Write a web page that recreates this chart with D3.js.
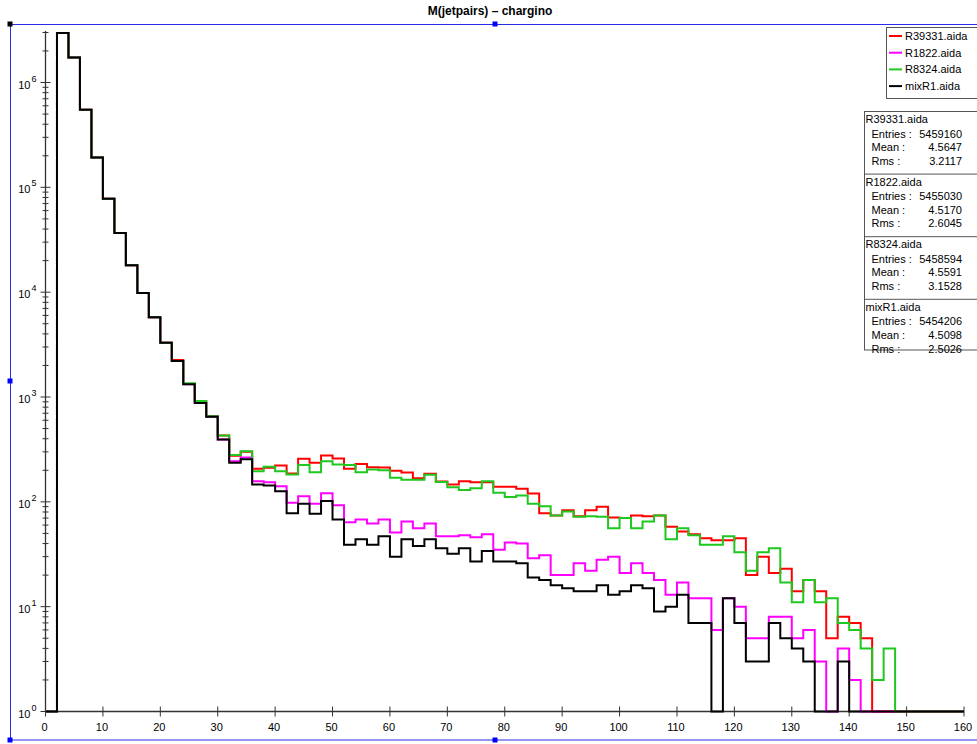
<!DOCTYPE html>
<html>
<head>
<meta charset="utf-8">
<script src="https://cdn.jsdelivr.net/npm/d3@7"></script>
<style>
  html, body { margin: 0; padding: 0; background: #fff; }
  svg { display: block; }
  text { font-family: "Liberation Sans", Arial, sans-serif; }
</style>
</head>
<body>
<svg id="chart" width="977" height="744"></svg>
<script>
// ---------------- DATA ----------------
const title = "M(jetpairs) \u2013 chargino";
const binWidth = 2;
const xMin = 0, xMax = 160;
const xTicks = [0, 10, 20, 30, 40, 50, 60, 70, 80, 90, 100, 110, 120, 130, 140, 150, 160];
const yDecades = [0, 1, 2, 3, 4, 5, 6];

const seriesNames = ["R39331.aida", "R1822.aida", "R8324.aida", "mixR1.aida"];
const seriesColors = ["#ff0000", "#ff00ff", "#1ec81e", "#000000"];

const r39331 = [0, 2970000, 1730000, 550000, 193000, 78000, 36700, 18100, 9800, 5750,
  3300, 2250, 1330, 914, 657, 430, 275, 300, 207, 211,
  222, 186, 257, 236, 277, 259, 207, 229, 214, 213,
  198, 190, 168, 185, 156, 146, 157, 154, 154, 139,
  139, 133, 120, 78, 74, 83, 73, 83, 90, 71,
  70, 74, 73, 74, 58, 52, 49, 45, 43, 43,
  45, 20, 30, 21, 23, 14, 18, 14, 5, 8,
  7, 5, 0, 0, 0, 0, 0, 0, 0, 0];

const r1822 = [0, 2970000, 1730000, 550000, 193000, 78000, 36700, 18100, 9800, 5750,
  3300, 2200, 1320, 878, 650, 393, 244, 265, 157, 154,
  141, 98, 113, 96, 121, 93, 64, 68, 62, 68,
  51, 65, 56, 62, 47, 47, 48, 46, 49, 35,
  41, 40, 29, 31, 20, 20, 26, 22, 28, 30,
  21, 26, 21, 18, 13, 17, 12, 12, 6, 12,
  10, 5, 5, 8, 8, 5, 6, 3, 0, 4,
  2, 0, 0, 0, 0, 0, 0, 0, 0, 0];

const r8324 = [0, 2970000, 1730000, 550000, 193000, 78000, 36700, 18100, 9800, 5750,
  3300, 2200, 1350, 914, 657, 430, 279, 304, 196, 216,
  196, 182, 224, 192, 244, 227, 224, 192, 204, 200,
  170, 162, 162, 181, 155, 138, 130, 135, 157, 122,
  111, 115, 96, 91, 74, 81, 72, 73, 72, 56,
  70, 56, 65, 74, 44, 56, 48, 39, 39, 47,
  33, 22, 33, 36, 17, 11, 18, 11, 12, 7,
  6, 4, 2, 4, 0, 0, 0, 0, 0, 0];

const mixR1 = [0, 2970000, 1730000, 550000, 193000, 78000, 36700, 18100, 9800, 5750,
  3300, 2200, 1320, 878, 649, 393, 236, 255, 146, 143,
  126, 78, 96, 77, 102, 68, 39, 44, 39, 47,
  30, 44, 38, 44, 36, 32, 36, 27, 34, 27,
  27, 26, 19, 18, 16, 15, 14, 14, 16, 13,
  14, 16, 15, 9, 10, 13, 7, 7, 0, 12,
  7, 3, 3, 7, 5, 4, 3, 0, 0, 3,
  0, 0, 0, 0, 0, 0, 0, 0, 0, 0];

const statEntries = ["5459160", "5455030", "5458594", "5454206"];
const statMeans = ["4.5647", "4.5170", "4.5591", "4.5098"];
const statRms = ["3.2117", "2.6045", "3.1528", "2.5026"];

// ---------------- DRAW ----------------
const svg = d3.select("#chart");
const series = [r39331, r1822, r8324, mixR1];

const x = d3.scaleLinear().domain([xMin, xMax]).range([45.5, 964]);
const yMaxVal = 3.1e6;
const y = d3.scaleLog().domain([1, yMaxVal]).range([711.5, 31]);

// title
svg.append("text").attr("x", 490).attr("y", 15)
  .attr("text-anchor", "middle").attr("font-size", 12).attr("font-weight", "bold")
  .text(title);

// blue selection frame
const frame = svg.append("g");
frame.append("rect").attr("x", 10.5).attr("y", 24.5).attr("width", 980).attr("height", 715.5)
  .attr("fill", "none").attr("stroke", "#2b2be6").attr("stroke-width", 1);
const handles = [[10, 24, "#000"], [495, 24, "#0000ff"], [10, 381, "#0000ff"], [10, 740, "#0000ff"], [495, 740, "#0000ff"]];
handles.forEach(h => frame.append("rect").attr("x", h[0] - 2.5).attr("y", h[1] - 2.5)
  .attr("width", 5).attr("height", 5).attr("fill", h[2]));

// axes
const axisColor = "#333";
const ax = svg.append("g");
ax.append("line").attr("x1", x(xMin)).attr("x2", x(xMax)).attr("y1", y(1)).attr("y2", y(1))
  .attr("stroke", axisColor).attr("stroke-width", 1.3);
ax.append("line").attr("x1", x(xMin)).attr("x2", x(xMin)).attr("y1", y(1)).attr("y2", y(yMaxVal))
  .attr("stroke", axisColor).attr("stroke-width", 1.3);

xTicks.forEach(t => {
  ax.append("line").attr("x1", x(t)).attr("x2", x(t)).attr("y1", y(1) - 5).attr("y2", y(1) + 5)
    .attr("stroke", axisColor).attr("stroke-width", 1);
  ax.append("text").attr("x", x(t) - 1).attr("y", 731).attr("text-anchor", "middle")
    .attr("font-size", 11).attr("fill", "#000").text(t);
});

// y ticks (log): major at decades, minor 2..9
const yMinor = [];
yDecades.forEach(d => {
  for (let m = 2; m <= 9; m++) {
    const v = m * Math.pow(10, d);
    if (v <= yMaxVal) yMinor.push(v);
  }
});
yMinor.forEach(v => {
  ax.append("line").attr("x1", x(0) - 3).attr("x2", x(0) + 3).attr("y1", y(v)).attr("y2", y(v))
    .attr("stroke", axisColor).attr("stroke-width", 1);
});
yDecades.forEach(d => {
  const v = Math.pow(10, d);
  ax.append("line").attr("x1", x(0) - 5).attr("x2", x(0) + 5).attr("y1", y(v)).attr("y2", y(v))
    .attr("stroke", axisColor).attr("stroke-width", 1);
  ax.append("text").attr("x", 30.5).attr("y", y(v) + 6).attr("text-anchor", "end")
    .attr("font-size", 11).text("10");
  ax.append("text").attr("x", 31.5).attr("y", y(v) - 1).attr("text-anchor", "start")
    .attr("font-size", 9).text(d);
});

// histograms
const line = d3.line()
  .x(d => x(d[0]))
  .y(d => y(Math.max(d[1], 1)))
  .curve(d3.curveStepAfter);

series.forEach((vals, si) => {
  const pts = vals.map((v, i) => [xMin + i * binWidth, v]);
  pts.push([xMax, vals[vals.length - 1]]);
  svg.append("path").attr("d", line(pts)).attr("fill", "none")
    .attr("stroke", seriesColors[si]).attr("stroke-width", 2)
    .attr("stroke-linejoin", "miter");
});

// legend
const lg = svg.append("g");
lg.append("rect").attr("x", 886.5).attr("y", 27.5).attr("width", 100).attr("height", 71)
  .attr("fill", "#fff").attr("stroke", "#555").attr("stroke-width", 1);
seriesNames.forEach((n, i) => {
  const cy = 36 + i * 16.7;
  lg.append("line").attr("x1", 889).attr("x2", 902).attr("y1", cy).attr("y2", cy)
    .attr("stroke", seriesColors[i]).attr("stroke-width", 2);
  lg.append("text").attr("x", 905).attr("y", cy + 4).attr("font-size", 11).text(n);
});

// stats boxes
const st = svg.append("g");
const boxTop = 111.5, boxH = 62.6, boxBottom = 350;
st.append("rect").attr("x", 864.5).attr("y", boxTop).attr("width", 120).attr("height", boxBottom - boxTop)
  .attr("fill", "#fff").attr("stroke", "#555").attr("stroke-width", 1);
seriesNames.forEach((n, i) => {
  const t0 = boxTop + i * boxH;
  if (i > 0) st.append("line").attr("x1", 864.5).attr("x2", 985).attr("y1", t0).attr("y2", t0)
    .attr("stroke", "#555").attr("stroke-width", 1);
  st.append("text").attr("x", 865.5).attr("y", t0 + 11.5).attr("font-size", 11).text(n);
  const rows = [["Entries :", statEntries[i]], ["Mean :", statMeans[i]], ["Rms :", statRms[i]]];
  rows.forEach((r, k) => {
    const by = t0 + 26 + k * 13.6;
    st.append("text").attr("x", 871.5).attr("y", by).attr("font-size", 11).text(r[0]);
    st.append("text").attr("x", 962).attr("y", by).attr("text-anchor", "end").attr("font-size", 11).text(r[1]);
  });
});
</script>
</body>
</html>
